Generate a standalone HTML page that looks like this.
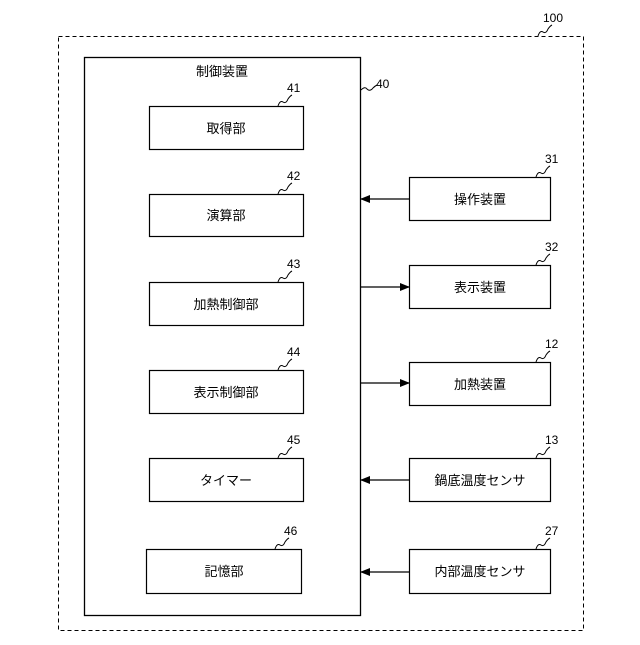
<!DOCTYPE html>
<html><head><meta charset="utf-8"><style>body{margin:0;background:#fff}</style></head><body>
<svg width="640" height="640" viewBox="0 0 640 640" xmlns="http://www.w3.org/2000/svg" font-family="Liberation Sans, Noto Sans CJK JP, sans-serif" font-size="13">
<defs><marker id="a" markerWidth="10" markerHeight="8" refX="9" refY="4" orient="auto" markerUnits="userSpaceOnUse"><path d="M0,0 L10,4 L0,8 z" fill="#000"/></marker></defs>
<rect x="58.5" y="36.5" width="525" height="594" fill="none" stroke="#000" stroke-dasharray="4,3"/>
<rect x="84.5" y="57.5" width="276" height="558" fill="none" stroke="#000" stroke-width="1.3"/>
<text x="222" y="76" text-anchor="middle">制御装置</text>
<g fill="none" stroke="#000" stroke-width="1.2">
<rect x="149.5" y="106.5" width="154" height="43"/>
<rect x="149.5" y="194.5" width="154" height="42"/>
<rect x="149.5" y="282.5" width="154" height="43"/>
<rect x="149.5" y="370.5" width="154" height="43"/>
<rect x="149.5" y="458.5" width="154" height="43"/>
<rect x="146.5" y="549.5" width="155" height="44"/>
<rect x="409.5" y="177.5" width="141" height="43"/>
<rect x="409.5" y="265.5" width="141" height="43"/>
<rect x="409.5" y="362.5" width="141" height="43"/>
<rect x="409.5" y="458.5" width="141" height="43"/>
<rect x="409.5" y="549.5" width="141" height="44"/>
</g>
<g stroke="#000" stroke-width="1.2" fill="none">
<line x1="409" y1="199" x2="361" y2="199" marker-end="url(#a)"/>
<line x1="361" y1="287" x2="409" y2="287" marker-end="url(#a)"/>
<line x1="361" y1="383" x2="409" y2="383" marker-end="url(#a)"/>
<line x1="409" y1="480" x2="361" y2="480" marker-end="url(#a)"/>
<line x1="409" y1="572" x2="361" y2="572" marker-end="url(#a)"/>
</g>
<g stroke="#000" stroke-width="1" fill="none">
<path d="M278,106 q2,-6 5,-4 q3,2 5,-3 q2,-3 4,-4"/>
<path d="M278,194 q2,-6 5,-4 q3,2 5,-3 q2,-3 4,-4"/>
<path d="M278,282 q2,-6 5,-4 q3,2 5,-3 q2,-3 4,-4"/>
<path d="M278,370 q2,-6 5,-4 q3,2 5,-3 q2,-3 4,-4"/>
<path d="M278,458 q2,-6 5,-4 q3,2 5,-3 q2,-3 4,-4"/>
<path d="M275,549 q2,-6 5,-4 q3,2 5,-3 q2,-3 4,-4"/>
<path d="M361,90 q4,-4 6,-1 q3,3 6,-1 q2,-2 4,-3"/>
<path d="M536,177 q2,-6 5,-4 q3,2 5,-3 q2,-3 4,-4"/>
<path d="M536,265 q2,-6 5,-4 q3,2 5,-3 q2,-3 4,-4"/>
<path d="M536,362 q2,-6 5,-4 q3,2 5,-3 q2,-3 4,-4"/>
<path d="M536,458 q2,-6 5,-4 q3,2 5,-3 q2,-3 4,-4"/>
<path d="M536,549 q2,-6 5,-4 q3,2 5,-3 q2,-3 4,-4"/>
<path d="M538,36 q2,-6 5,-4 q3,2 5,-3 q2,-3 4,-4"/>
</g>
<g font-size="12">
<text x="287" y="92">41</text><text x="287" y="180">42</text><text x="287" y="268">43</text>
<text x="287" y="356">44</text><text x="287" y="444">45</text><text x="284" y="535">46</text>
<text x="376" y="88">40</text>
<text x="545" y="163">31</text><text x="545" y="251">32</text><text x="545" y="348">12</text>
<text x="545" y="444">13</text><text x="545" y="535">27</text><text x="543" y="22">100</text>
</g>
<g text-anchor="middle">
<text x="226" y="133">取得部</text>
<text x="226" y="220">演算部</text>
<text x="226" y="309">加熱制御部</text>
<text x="226" y="397">表示制御部</text>
<text x="226" y="485">タイマー</text>
<text x="224" y="576">記憶部</text>
<text x="480" y="204">操作装置</text>
<text x="480" y="292">表示装置</text>
<text x="480" y="389">加熱装置</text>
<text x="480" y="485">鍋底温度センサ</text>
<text x="480" y="576">内部温度センサ</text>
</g>
</svg>
</body></html>
